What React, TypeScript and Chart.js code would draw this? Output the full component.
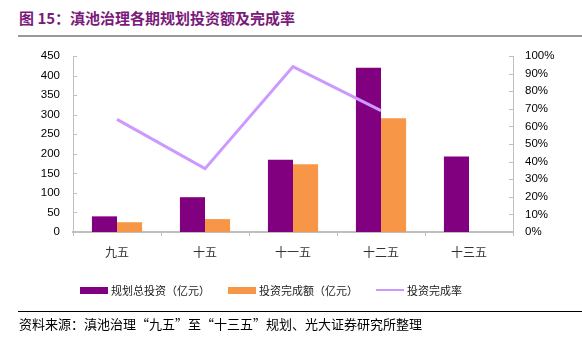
import React, { useEffect, useRef } from "react";
import { Chart, registerables } from "chart.js";

Chart.register(...registerables);

const categories = ["九五", "十五", "十一五", "十二五", "十三五"];
const plannedInvestment = [40, 89, 185, 420, 193];
const completedInvestment = [25, 33, 173, 291, null];
const completionRate = [64, 36, 94, 69, null];
const leftAxisMax = 450;
const leftAxisStep = 50;
const rightAxisMax = 100;
const rightAxisStep = 10;

const seriesNames = ["规划总投资（亿元）", "投资完成额（亿元）", "投资完成率"];
const titleText = "图 15：滇池治理各期规划投资额及完成率";
const sourceText = "资料来源：滇池治理“九五”至“十三五”规划、光大证券研究所整理";

const PURPLE = "#800080";
const ORANGE = "#F79646";
const LILAC = "#CC99FF";
const AXIS = "#BFBFBF";
const CJK = '"Noto Sans CJK SC", "Noto Sans", sans-serif';
const LATIN = '"Liberation Sans", Arial, sans-serif';

const innerTicks = {
  id: "innerTicks",
  afterDraw(chart: any) {
    const { ctx, chartArea } = chart;
    ctx.save();
    ctx.strokeStyle = AXIS;
    ctx.lineWidth = 1;
    const y1 = chart.scales.y;
    y1.ticks.forEach((_: any, i: number) => {
      const y = Math.round(y1.getPixelForTick(i)) + 0.5;
      ctx.beginPath();
      ctx.moveTo(chartArea.left, y);
      ctx.lineTo(chartArea.left + 4, y);
      ctx.stroke();
    });
    const y2 = chart.scales.y2;
    y2.ticks.forEach((_: any, i: number) => {
      const y = Math.round(y2.getPixelForTick(i)) + 0.5;
      ctx.beginPath();
      ctx.moveTo(chartArea.right - 4, y);
      ctx.lineTo(chartArea.right, y);
      ctx.stroke();
    });
    ctx.restore();
  },
};

export default function App() {
  const ref = useRef<HTMLCanvasElement>(null);

  useEffect(() => {
    if (!ref.current) return;
    const chart = new Chart(ref.current, {
      type: "bar",
      data: {
        labels: categories,
        datasets: [
          {
            type: "line",
            label: seriesNames[2],
            data: completionRate,
            yAxisID: "y2",
            borderColor: LILAC,
            backgroundColor: LILAC,
            borderWidth: 3,
            pointRadius: 0,
            tension: 0,
            spanGaps: false,
            order: 0,
          } as any,
          {
            label: seriesNames[0],
            data: plannedInvestment,
            yAxisID: "y",
            backgroundColor: PURPLE,
            categoryPercentage: 0.57,
            barPercentage: 1,
            order: 1,
          },
          {
            label: seriesNames[1],
            data: completedInvestment,
            yAxisID: "y",
            backgroundColor: ORANGE,
            categoryPercentage: 0.57,
            barPercentage: 1,
            order: 1,
          },
        ],
      },
      options: {
        responsive: false,
        animation: false,
        devicePixelRatio: 1,
        layout: { padding: { top: 56, left: 13, right: 0, bottom: 89 } },
        plugins: {
          legend: { display: false },
          tooltip: { enabled: false },
        },
        scales: {
          x: {
            offset: true,
            grid: {
              display: true,
              drawOnChartArea: false,
              drawTicks: true,
              tickLength: 4,
              color: AXIS,
              offset: true,
            },
            border: { display: true, color: AXIS, width: 2 },
            ticks: {
              color: "#333",
              font: { family: CJK, size: 12 },
              padding: 9,
            },
            afterFit: (s: any) => {
              s.height = 30;
            },
          },
          y: {
            position: "left",
            min: 0,
            max: leftAxisMax,
            grid: { display: false, drawTicks: false },
            border: { display: true, color: AXIS, width: 1 },
            ticks: {
              stepSize: leftAxisStep,
              color: "#000",
              font: { family: LATIN, size: 11.5 },
              padding: 13,
            },
            afterFit: (s: any) => {
              s.width = 60;
            },
          },
          y2: {
            position: "right",
            min: 0,
            max: rightAxisMax,
            grid: { display: false, drawTicks: false },
            border: { display: true, color: AXIS, width: 1 },
            ticks: {
              stepSize: rightAxisStep,
              color: "#000",
              font: { family: LATIN, size: 11.5 },
              padding: 12,
              callback: (v: any) => v + "%",
            },
            afterFit: (s: any) => {
              s.width = 69;
            },
          },
        },
      },
      plugins: [innerTicks],
    } as any);
    return () => chart.destroy();
  }, []);

  const legendItem = (color: string, text: string, left: number, line: boolean) => (
    <div
      style={{
        position: "absolute",
        left,
        top: 282,
        height: 16,
        display: "flex",
        alignItems: "center",
        fontFamily: CJK,
        fontSize: 11,
        color: "#222",
        whiteSpace: "nowrap",
      }}
    >
      <span
        style={{
          display: "inline-block",
          width: 28,
          height: line ? 2 : 7,
          background: color,
          marginRight: 3,
        }}
      />
      {text}
    </div>
  );

  return (
    <div style={{ position: "fixed", left: 0, top: 0, width: 582, height: 351, background: "#fff" }}>
      <div
        style={{
          position: "absolute",
          left: 19,
          top: 7,
          fontFamily: CJK,
          fontWeight: 700,
          fontSize: 15,
          color: "#7A1A7A",
          whiteSpace: "nowrap",
        }}
      >
        {titleText}
      </div>
      <div style={{ position: "absolute", left: 18, top: 35, width: 564, height: 2, background: "#999" }} />
      <canvas ref={ref} width={582} height={351} style={{ position: "absolute", left: 0, top: 0, width: 582, height: 351 }} />
      {legendItem(PURPLE, seriesNames[0], 80, false)}
      {legendItem(ORANGE, seriesNames[1], 228, false)}
      {legendItem(LILAC, seriesNames[2], 376, true)}
      <div style={{ position: "absolute", left: 18, top: 311, width: 564, height: 1, background: "#000" }} />
      <div
        style={{
          position: "absolute",
          left: 19,
          top: 314,
          fontFamily: CJK,
          fontSize: 13,
          color: "#000",
          whiteSpace: "nowrap",
        }}
      >
        {sourceText}
      </div>
    </div>
  );
}
